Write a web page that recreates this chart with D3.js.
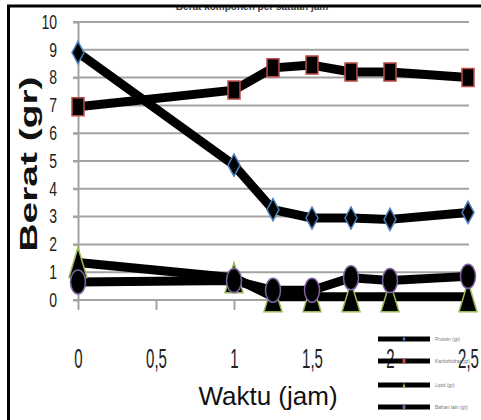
<!DOCTYPE html>
<html>
<head>
<meta charset="utf-8">
<script src="https://cdn.jsdelivr.net/npm/d3@7"></script>
<style>
  html, body { margin: 0; padding: 0; background: #fff; }
  svg { display: block; font-family: "Liberation Sans", Arial, sans-serif; }
</style>
</head>
<body>
<svg id="chart" width="481" height="420"></svg>
<script>
// Hours of observation
const waktu = [0, 1, 1.25, 1.5, 1.75, 2, 2.5];
// Weight (gr) of each component
const protein     = [8.9, 4.85, 3.25, 2.95, 2.95, 2.9, 3.15];
const karbohidrat = [6.95, 7.55, 8.35, 8.45, 8.2, 8.2, 8.0];
const lipid       = [1.35, 0.8, 0.12, 0.12, 0.12, 0.12, 0.12];
const bahanLain   = [0.65, 0.7, 0.35, 0.35, 0.8, 0.7, 0.85];

const seriesNames = ["Protein (gr)", "Karbohidrat (gr)", "Lipid (gr)", "Bahan lain (gr)"];
const xTicks = [0, 0.5, 1, 1.5, 2, 2.5];
const yTicks = [0, 1, 2, 3, 4, 5, 6, 7, 8, 9, 10];
const chartTitle = "Berat komponen per satuan jam";

const series = [
  { name: seriesNames[0], values: protein,     shape: "diamond",  color: "#4a7ebb" },
  { name: seriesNames[1], values: karbohidrat, shape: "square",   color: "#be4b48" },
  { name: seriesNames[2], values: lipid,       shape: "triangle", color: "#98b954" },
  { name: seriesNames[3], values: bahanLain,   shape: "circle",   color: "#7d60a0" }
];

const svg = d3.select("#chart");
const x = d3.scaleLinear().domain([0, 2.5]).range([78, 468]);
const y = d3.scaleLinear().domain([0, 10]).range([300, 22]);
const grid = "#a3a3a3";

// Title (top edge is hidden behind the frame)
svg.append("defs").append("clipPath").attr("id", "titleClip")
  .append("rect").attr("x", 0).attr("y", 7).attr("width", 481).attr("height", 20);
svg.append("text")
  .attr("clip-path", "url(#titleClip)")
  .attr("x", 252).attr("y", 9.5)
  .attr("text-anchor", "middle")
  .attr("font-size", 10).attr("font-weight", "bold")
  .attr("fill", "#444")
  .text(chartTitle);

// Horizontal gridlines
svg.append("g").selectAll("line").data(yTicks.filter(d => d > 0)).join("line")
  .attr("x1", 73).attr("x2", 469)
  .attr("y1", d => y(d)).attr("y2", d => y(d))
  .attr("stroke", grid).attr("stroke-width", 2);

// Y axis
const yAxis = svg.append("g").attr("transform", "translate(78,0)")
  .call(d3.axisLeft(y).tickValues(yTicks).tickSize(5).tickPadding(16).tickSizeOuter(0));
yAxis.select(".domain").attr("stroke", grid).attr("stroke-width", 2);
yAxis.selectAll(".tick line").attr("stroke", grid).attr("stroke-width", 2);
yAxis.selectAll(".tick text")
  .attr("font-size", 14).attr("fill", "#222")
  .attr("font-family", "Liberation Sans, Arial, sans-serif")
  .attr("transform", "scale(1,1.4)");

// X axis
const xAxis = svg.append("g").attr("transform", "translate(0,300)")
  .call(d3.axisBottom(x).tickValues(xTicks).tickSize(10).tickSizeOuter(0)
    .tickFormat(d => String(d).replace(".", ",")));
xAxis.select(".domain").attr("stroke", grid).attr("stroke-width", 2).attr("d", "M73,0H469");
xAxis.selectAll(".tick line").attr("stroke", grid).attr("stroke-width", 2);
xAxis.selectAll(".tick text")
  .attr("y", 0).attr("dy", "0.35em")
  .attr("font-size", 15).attr("fill", "#222")
  .attr("font-family", "Liberation Sans, Arial, sans-serif")
  .attr("transform", "translate(0,58) scale(1,1.85)");

// Axis titles
svg.append("text")
  .attr("transform", "translate(37,164) scale(1,1.62) rotate(-90)")
  .attr("text-anchor", "middle")
  .attr("font-size", 24).attr("font-weight", "bold").attr("fill", "#111")
  .text("Berat (gr)");
svg.append("text")
  .attr("x", 268).attr("y", 405)
  .attr("text-anchor", "middle")
  .attr("font-size", 26).attr("fill", "#111")
  .text("Waktu (jam)");

// Lines
const line = d3.line().x((d, i) => x(waktu[i])).y(d => y(d));
svg.append("g").selectAll("path").data(series).join("path")
  .attr("d", s => line(s.values))
  .attr("fill", "none").attr("stroke", "#000")
  .attr("stroke-width", 9).attr("stroke-linejoin", "round");

// Marker shapes (w = width, h = height)
function markerPath(shape, w, h) {
  const a = w / 2, b = h / 2;
  if (shape === "diamond") return `M0,${-b}L${a},0L0,${b}L${-a},0Z`;
  if (shape === "square") return `M${-a},${-b}H${a}V${b}H${-a}Z`;
  if (shape === "triangle") return `M0,${-b}L${a},${b}H${-a}Z`;
  return `M${-a},0A${a},${b} 0 1,0 ${a},0A${a},${b} 0 1,0 ${-a},0Z`;
}
const markerSize = { diamond: [12, 22], square: [12, 18], triangle: [18, 30], circle: [15, 24] };

series.forEach(s => {
  const [w, h] = markerSize[s.shape];
  svg.append("g").selectAll("path").data(s.values).join("path")
    .attr("transform", (d, i) => `translate(${x(waktu[i])},${y(d)})`)
    .attr("d", markerPath(s.shape, w, h))
    .attr("fill", "#000").attr("stroke", s.color).attr("stroke-width", 1.5);
});

// Legend
const legend = svg.append("g").selectAll("g").data(series).join("g")
  .attr("transform", (s, i) => `translate(378,${[339, 361, 385, 407][i]})`);
legend.append("line").attr("x1", 0).attr("x2", 52)
  .attr("stroke", "#000").attr("stroke-width", 5);
legend.append("path")
  .attr("transform", "translate(26,0)")
  .attr("d", s => markerPath(s.shape, 3, 5))
  .attr("fill", s => s.color);
legend.append("text")
  .attr("x", 57).attr("dy", "0.35em")
  .attr("font-size", 5).attr("fill", "#777")
  .text(s => s.name);

// Frame
svg.append("path").attr("d", "M8.5,420V6H481")
  .attr("fill", "none").attr("stroke", "#000").attr("stroke-width", 3);
</script>
</body>
</html>
